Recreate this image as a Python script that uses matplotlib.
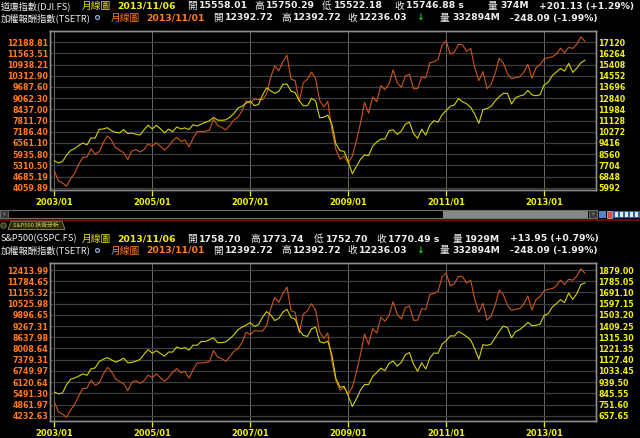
import matplotlib.pyplot as plt
from matplotlib.patches import Rectangle, Polygon
from matplotlib.lines import Line2D

# ---- data (monthly closes, 2003/01 .. 2013/11) ----
year_labels = ['2003/01', '2005/01', '2007/01', '2009/01', '2011/01', '2013/01']

tsetr = [5019, 4440, 4330, 4150, 4560, 4870, 5370, 5760, 5780, 6230, 5940, 6070,
         6570, 6950, 6720, 6300, 6160, 6020, 5640, 6110, 6200, 6050, 6200, 6510,
         6370, 6580, 6370, 6170, 6370, 6680, 6880, 6640, 6730, 6340, 6820, 7200,
         7190, 7220, 7270, 7890, 7530, 7440, 7290, 7540, 7850, 8000, 8350, 8920,
         8780, 9010, 8990, 8980, 9290, 10220, 10870, 10600, 11100, 11460, 10130, 10040,
         8880, 9930, 10120, 10520, 10170, 8950, 8570, 8880, 7260, 6190, 5660, 5830,
         5440, 5830, 6670, 7670, 8820, 8230, 9130, 8870, 9760, 9540, 9860, 10640,
         9930, 9670, 10300, 10400, 9590, 9600, 10240, 10200, 11040, 11100, 11220, 12020,
         12250, 11520, 11640, 12070, 12040, 11680, 11840, 10760, 10040, 10550, 9600, 9830,
         10450, 11290, 11030, 10430, 10150, 10210, 10250, 10500, 10960, 10180, 10760, 10930,
         11250, 11330, 11370, 11530, 11850, 11600, 11900, 11840, 12080, 12484.12, 12236.03]

dji = [8053.81, 7891.08, 7992.13, 8480.09, 8850.26, 8985.44, 9233.80, 9415.82, 9275.06, 9801.12, 9782.46, 10453.92,
       10488.07, 10583.92, 10357.70, 10225.57, 10188.45, 10435.48, 10139.71, 10173.92, 10080.27, 10027.47, 10428.02, 10783.01,
       10489.94, 10766.23, 10503.76, 10192.51, 10467.48, 10274.97, 10640.91, 10481.60, 10568.70, 10440.07, 10805.87, 10717.50,
       10864.86, 10993.41, 11109.32, 11367.14, 11168.31, 11150.22, 11185.68, 11381.15, 11679.07, 12080.73, 12221.93, 12463.15,
       12621.69, 12268.63, 12354.35, 13062.91, 13627.64, 13408.62, 13211.99, 13357.74, 13895.63, 13930.01, 13371.72, 13264.82,
       12650.36, 12266.39, 12262.89, 12820.13, 12638.32, 11350.01, 11378.02, 11543.55, 10850.66, 9325.01, 8829.04, 8776.39,
       8000.86, 7062.93, 7608.92, 8168.12, 8500.33, 8447.00, 9171.61, 9496.28, 9712.28, 9712.73, 10344.84, 10428.05,
       10067.33, 10325.26, 10856.63, 11008.61, 10136.63, 9774.02, 10465.94, 10014.72, 10788.05, 11118.49, 11006.02, 11577.51,
       11891.93, 12226.34, 12319.73, 12810.54, 12569.79, 12414.34, 12143.24, 11613.53, 10913.38, 11955.01, 12045.68, 12217.56,
       12632.91, 12952.07, 13212.04, 13213.63, 12393.45, 12880.09, 13008.68, 13090.84, 13437.13, 13096.46, 13025.58, 13104.14,
       13860.58, 14054.49, 14578.54, 14839.80, 15115.57, 14909.60, 15499.54, 14810.31, 15129.67, 15545.75, 15746.88]

sp500 = [855.70, 841.15, 848.18, 916.92, 963.59, 974.50, 990.31, 1008.01, 995.97, 1050.71, 1058.20, 1111.92,
         1131.13, 1144.94, 1126.21, 1107.30, 1120.68, 1140.84, 1101.72, 1104.24, 1114.58, 1130.20, 1173.82, 1211.92,
         1181.27, 1203.60, 1180.59, 1156.85, 1191.50, 1191.33, 1234.18, 1220.33, 1228.81, 1207.01, 1249.48, 1248.29,
         1280.08, 1280.66, 1294.83, 1310.61, 1270.09, 1270.20, 1276.66, 1303.82, 1335.85, 1377.94, 1400.63, 1418.30,
         1438.24, 1406.82, 1420.86, 1482.37, 1530.62, 1503.35, 1455.27, 1473.99, 1526.75, 1549.38, 1481.14, 1468.36,
         1378.55, 1330.63, 1322.70, 1385.59, 1400.38, 1280.00, 1267.38, 1282.83, 1166.36, 968.75, 896.24, 903.25,
         825.88, 735.09, 797.87, 872.81, 919.14, 919.32, 987.48, 1020.62, 1057.08, 1036.19, 1095.63, 1115.10,
         1073.87, 1104.49, 1169.43, 1186.69, 1089.41, 1030.71, 1101.60, 1049.33, 1141.20, 1183.26, 1180.55, 1257.64,
         1286.12, 1327.22, 1325.83, 1363.61, 1345.20, 1320.64, 1292.28, 1218.89, 1131.42, 1253.30, 1246.96, 1257.60,
         1312.41, 1365.68, 1408.47, 1397.91, 1310.33, 1362.16, 1379.32, 1406.58, 1440.67, 1412.16, 1416.18, 1426.19,
         1498.11, 1514.68, 1569.19, 1597.57, 1630.74, 1606.28, 1685.73, 1632.97, 1681.55, 1756.54, 1770.49]

top_left_ticks = [4059.89, 4685.19, 5310.50, 5935.80, 6561.10, 7186.40, 7811.70,
                  8437.00, 9062.30, 9687.60, 10312.90, 10938.21, 11563.51, 12188.81]
top_right_ticks = [5992, 6848, 7704, 8560, 9416, 10272, 11128,
                   11984, 12840, 13696, 14552, 15408, 16264, 17120]
bot_left_ticks = [4232.63, 4861.97, 5491.30, 6120.64, 6749.97, 7379.31, 8008.64,
                  8637.98, 9267.31, 9896.65, 10525.98, 11155.32, 11784.65, 12413.99]
bot_right_ticks = [657.65, 751.60, 845.55, 939.50, 1033.45, 1127.40, 1221.35,
                   1315.30, 1409.25, 1503.20, 1597.15, 1691.10, 1785.05, 1879.00]

# ---- style ----
W, H = 640, 438
ORANGE_TXT = '#ff7b22'
YELLOW_TXT = '#f2f200'
ORANGE_LN = '#cc561c'
YELLOW_LN = '#d2d200'
GRID = '#3e3e3e'
VGRID = '#6c6c6c'
FRAME = '#8c8c8c'
WHITE = '#eeeeee'
CJK = ['Noto Sans CJK TC', 'DejaVu Sans']

plt.rcParams['font.family'] = ['DejaVu Sans']
fig = plt.figure(figsize=(6.4, 4.38), dpi=100, facecolor='black')


def px_box(x0, y0, x1, y1):
    return [x0 / W, 1 - y1 / H, (x1 - x0) / W, (y1 - y0) / H]


def put(x, y, s, color=WHITE, kind='num'):
    if kind == 'num':
        kw = dict(fontsize=6.7, fontweight='bold', family=['DejaVu Sans'])
    elif kind == 'name':
        kw = dict(fontsize=6.7, family=CJK)
    else:
        kw = dict(fontsize=7.0, family=CJK)
    fig.text(x / W, 1 - y / H, s, color=color, ha='left', va='center', **kw)


def rect(x0, y0, x1, y1, fc, ec='none', lw=0):
    fig.add_artist(Rectangle((x0 / W, 1 - y1 / H), (x1 - x0) / W, (y1 - y0) / H,
                             transform=fig.transFigure, fc=fc, ec=ec, lw=lw))


def header_main(y, name, date, vals, xs):
    put(1, y, name, WHITE, 'name')
    put(82, y, '月線圖', '#e4e400', 'cjk')
    put(117, y, date, YELLOW_TXT)
    o, h, l, c, v, chg = vals
    for x, s, kind in zip(xs, ['開', o, '高', h, '低', l, '收', c, '量', v, chg],
                          ['cjk', 'num'] * 5 + ['num']):
        put(x, y, s, WHITE, kind)


def header_tsetr(y):
    put(1, y, '加權報酬指數(TSETR)', WHITE, 'name')
    fig.add_artist(Line2D([97 / W], [1 - (y - 1) / H], marker='o', ms=2.8, mfc='none',
                          mec='#8fa8d8', mew=0.9, transform=fig.transFigure))
    put(111, y, '月線圖', ORANGE_TXT, 'cjk')
    put(146, y, '2013/11/01', ORANGE_TXT)
    put(213, y, '開', WHITE, 'cjk')
    put(225, y, '12392.72')
    put(281, y, '高', WHITE, 'cjk')
    put(293, y, '12392.72')
    put(347, y, '收', WHITE, 'cjk')
    put(359, y, '12236.03')
    put(416, y, '↓', '#19d219')
    put(440, y, '量', WHITE, 'cjk')
    put(452, y, '332894M')
    put(510, y, '-248.09 (-1.99%)')


def panel(box, left_vals, left_ticks, lfmt, pad_lo, pad_hi, right_vals, right_ticks, rfmt):
    ax = fig.add_axes(px_box(*box))
    ax.set_facecolor('black')
    x = list(range(len(left_vals)))
    ax.plot(x, left_vals, color=ORANGE_LN, lw=0.8, zorder=3)
    lstep = left_ticks[1] - left_ticks[0]
    ax.set_ylim(left_ticks[0] - pad_lo * lstep, left_ticks[-1] + pad_hi * lstep)
    ax.set_yticks(left_ticks, [lfmt % t for t in left_ticks], fontweight='bold')
    ax.tick_params(axis='y', length=0, pad=1.3, labelcolor=ORANGE_TXT, labelsize=5.7)
    ax.grid(axis='y', color=GRID, lw=0.9)
    ax.set_xlim(-1.05, 132.7)
    ax.set_xticks(list(range(0, len(left_vals), 24)), year_labels, fontweight='bold')
    ax.tick_params(axis='x', length=4.2, width=0.9, color=YELLOW_TXT, labelcolor=YELLOW_TXT,
                   labelsize=6, pad=1.2)
    ax.grid(axis='x', color=VGRID, lw=0.7)
    ax.set_axisbelow(True)

    axr = ax.twinx()
    axr.plot(x, right_vals, color=YELLOW_LN, lw=0.8, zorder=2)
    rstep = right_ticks[1] - right_ticks[0]
    axr.set_ylim(right_ticks[0] - pad_lo * rstep, right_ticks[-1] + pad_hi * rstep)
    axr.set_yticks(right_ticks, [rfmt % t for t in right_ticks], fontweight='bold')
    axr.tick_params(axis='y', length=0, pad=1.8, labelcolor=YELLOW_TXT, labelsize=5.7)
    for a in (ax, axr):
        for sp in a.spines.values():
            sp.set_color(FRAME)
            sp.set_linewidth(1.0)
    return ax


# ---- top panel: DJI vs TSETR ----
header_main(6, '道瓊指數(DJI.FS)', '2013/11/06',
            ['15558.01', '15750.29', '15522.18', '15746.88 s', '374M', '+201.13 (+1.29%)'],
            [187, 199, 254, 266, 322, 334, 394, 406, 488, 500, 539])
header_tsetr(18)
panel((50, 31, 596, 190), tsetr, top_left_ticks, '%.2f', 0.2, 1.0,
      dji, top_right_ticks, '%d')

# ---- scrollbar / tab strip ----
rect(0, 210.5, 597, 218.5, '#000000', '#6e6e6e', 0.8)
rect(0, 210.5, 8, 218.5, '#3a3a3a', '#6e6e6e', 0.6)
rect(443, 211.2, 588, 217.8, '#878787')
rect(589, 210.5, 597, 218.5, '#3a3a3a', '#6e6e6e', 0.6)
fig.text(4 / W, 1 - 214.5 / H, '‹', color='#cfcfcf', fontsize=5, ha='center', va='center')
fig.text(593 / W, 1 - 214.5 / H, '›', color='#cfcfcf', fontsize=5, ha='center', va='center')
rect(599, 211, 606, 218, '#4f86c6')
rect(607, 211, 612, 218, '#d84a4a', '#eeeeee', 0.4)
rect(613, 211, 640, 218, '#2f5fc0')
for ix in range(615, 640, 5):
    rect(ix, 212, ix + 2.5, 217, '#e6e6f5')
rect(0, 219.3, 640, 220.6, '#6a0a00')
fig.add_artist(Polygon([(8 / W, 1 - 229.5 / H), (11 / W, 1 - 221.2 / H), (62 / W, 1 - 221.2 / H),
                        (65 / W, 1 - 229.5 / H)], closed=True, fc='#2a2a05', ec='#8a8a6a',
                       lw=0.6, transform=fig.transFigure))
fig.text(13 / W, 1 - 225.5 / H, 'S&P500 技術分析', color='#d8d860', fontsize=4.2,
         family=CJK, ha='left', va='center')
fig.add_artist(Line2D([3 / W], [1 - 225 / H], marker='o', ms=4, mfc='#3a3a10', mec='#8a8a6a',
                      mew=0.5, transform=fig.transFigure))

# ---- bottom panel: S&P500 vs TSETR ----
header_main(239, 'S&P500(GSPC.FS)', '2013/11/06',
            ['1758.70', '1773.74', '1752.70', '1770.49 s', '1929M', '+13.95 (+0.79%)'],
            [187, 199, 250, 262, 314, 326, 376, 388, 453, 465, 510])
header_tsetr(250.5)
panel((50, 263.3, 596, 421), tsetr, bot_left_ticks, '%.2f', 0.47, 0.6,
      sp500, bot_right_ticks, '%.2f')

fig.savefig('out.png', dpi=100, facecolor='black')
